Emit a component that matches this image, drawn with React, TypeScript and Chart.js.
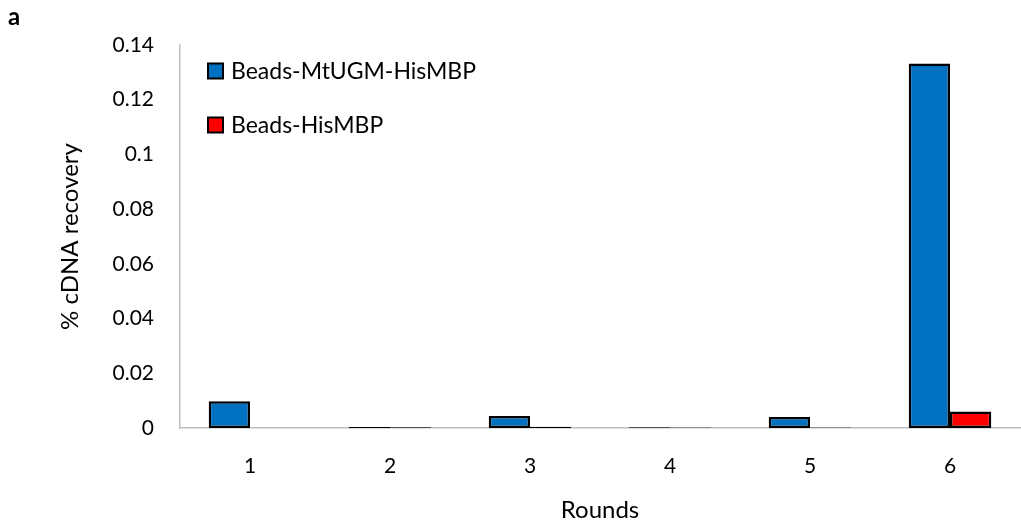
import React, { useEffect, useRef } from "react";
import { Chart, registerables } from "chart.js";

Chart.register(...registerables);

const rounds = ["1", "2", "3", "4", "5", "6"];
const mtugmValues = [0.0098, 0.0004, 0.0044, 0.0003, 0.004, 0.1332];
const hismbpValues = [0, 0.0003, 0.0005, 0.0002, 0.0002, 0.006];
const yTickValues = [0, 0.02, 0.04, 0.06, 0.08, 0.1, 0.12, 0.14];
const yTickLabels = ["0", "0.02", "0.04", "0.06", "0.08", "0.1", "0.12", "0.14"];
const seriesNames = ["Beads-MtUGM-HisMBP", "Beads-HisMBP"];
const seriesColors = ["#0070C0", "#FF0000"];
const yTitle = "% cDNA recovery";
const xTitle = "Rounds";
const panelLabel = "a";

const FONT = "Lato, 'Open Sans', sans-serif";

const overlayPlugin = {
  id: "overlay",
  afterDraw(chart: any) {
    const ctx = chart.ctx;
    const area = chart.chartArea;
    ctx.save();
    // panel label
    ctx.fillStyle = "#000";
    ctx.font = `bold 24px ${FONT}`;
    ctx.textAlign = "left";
    ctx.textBaseline = "middle";
    ctx.fillText(panelLabel, 8, 17);
    // axis titles
    ctx.font = `24px ${FONT}`;
    ctx.textAlign = "center";
    ctx.fillText(xTitle, (area.left + area.right) / 2, 510);
    ctx.save();
    ctx.translate(70, (area.top + area.bottom) / 2);
    ctx.rotate(-Math.PI / 2);
    ctx.fillText(yTitle, 0, 0);
    ctx.restore();
    // legend
    ctx.font = `23px ${FONT}`;
    ctx.textAlign = "left";
    seriesNames.forEach((name, i) => {
      const y = 71 + i * 54;
      ctx.fillStyle = seriesColors[i];
      ctx.fillRect(208, y - 7.5, 15, 15);
      ctx.strokeStyle = "#000";
      ctx.lineWidth = 2;
      ctx.strokeRect(208, y - 7.5, 15, 15);
      ctx.fillStyle = "#000";
      ctx.fillText(name, 231, y + 1);
    });
    ctx.restore();
  },
};

export default function App() {
  const ref = useRef<HTMLCanvasElement | null>(null);
  useEffect(() => {
    document.body.style.margin = "0";
    const chart = new Chart(ref.current as HTMLCanvasElement, {
      type: "bar",
      data: {
        labels: rounds,
        datasets: [
          {
            label: seriesNames[0],
            data: mtugmValues,
            backgroundColor: seriesColors[0],
            borderColor: "#000",
            borderWidth: 2.5,
            borderSkipped: false,
            categoryPercentage: 0.59,
            barPercentage: 1,
          },
          {
            label: seriesNames[1],
            data: hismbpValues,
            backgroundColor: seriesColors[1],
            borderColor: "#000",
            borderWidth: 2.5,
            borderSkipped: false,
            categoryPercentage: 0.59,
            barPercentage: 1,
          },
        ],
      },
      options: {
        animation: false,
        responsive: false,
        layout: { padding: { top: 45, right: 1, left: 0, bottom: 0 } },
        plugins: { legend: { display: false }, tooltip: { enabled: false } },
        scales: {
          x: {
            grid: { display: false, drawTicks: false },
            border: { color: "#BFBFBF", width: 1.5 },
            ticks: { color: "#000", font: { family: FONT, size: 21 }, padding: 26 },
            afterFit: (s: any) => {
              s.height = 97;
            },
          },
          y: {
            min: 0,
            max: 0.14,
            grid: { display: false, drawTicks: false },
            border: { color: "#BFBFBF", width: 1.5 },
            afterBuildTicks: (s: any) => {
              s.ticks = yTickValues.map((v) => ({ value: v }));
            },
            ticks: {
              color: "#000",
              font: { family: FONT, size: 21 },
              padding: 26,
              callback: (_v: any, i: number) => yTickLabels[i],
            },
            afterFit: (s: any) => {
              s.width = 180;
            },
          },
        },
      },
      plugins: [overlayPlugin],
    });
    return () => chart.destroy();
  }, []);
  return (
    <div style={{ position: "fixed", left: 0, top: 0, width: 1021, height: 525, background: "#fff" }}>
      <canvas ref={ref} width={1021} height={525} style={{ width: 1021, height: 525 }} />
    </div>
  );
}
